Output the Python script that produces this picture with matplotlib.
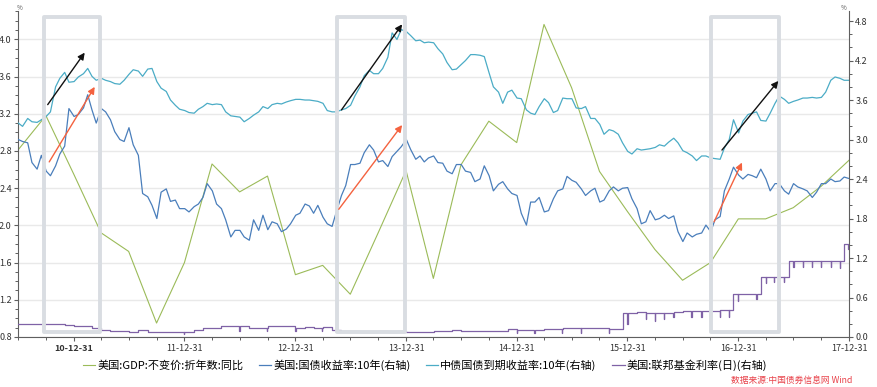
import matplotlib
matplotlib.use('Agg')
import matplotlib.pyplot as plt
import matplotlib.dates as mdates
from matplotlib.patches import Rectangle
from matplotlib.ticker import MultipleLocator, FormatStrFormatter, FixedLocator
import pandas as pd

plt.rcParams['font.family'] = ['Noto Sans CJK SC', 'DejaVu Sans']

# ---- data ----
# 美国 GDP 同比 (左轴), 季度
gdp_dates = pd.date_range('2010-06-30', '2017-12-31', freq='QE')
gdp = [2.81, 3.18, 2.55, 1.92, 1.72, 0.95, 1.60, 2.66, 2.36, 2.53, 1.47,
       1.57, 1.26, 1.92, 2.59, 1.43, 2.65, 3.12, 2.89, 4.16, 3.48, 2.58,
       2.15, 1.74, 1.41, 1.60, 2.07, 2.07, 2.19, 2.42, 2.70]

# 半月数据: 每月1日和15日
yld_dates = list(pd.date_range('2010-07-01', '2017-12-15', freq='SMS')) + [pd.Timestamp('2017-12-29')]

us10y = [
    3.00, 2.97, 2.95, 2.65, 2.55, 2.76, 2.52, 2.45, 2.60, 2.78, 2.90, 3.47,
    3.35, 3.38, 3.48, 3.68, 3.45, 3.25, 3.47, 3.42, 3.30, 3.12, 3.00, 2.97,
    3.18, 2.92, 2.76, 2.18, 2.13, 2.00, 1.80, 2.20, 2.25, 2.06, 2.08, 1.95,
    1.95, 1.90, 1.98, 2.02, 2.12, 2.33, 2.22, 2.02, 1.95, 1.78, 1.52, 1.62,
    1.62, 1.52, 1.47, 1.78, 1.62, 1.85, 1.63, 1.75, 1.72, 1.60, 1.64, 1.72,
    1.85, 1.88, 2.02, 1.99, 1.88, 2.00, 1.82, 1.72, 1.68, 1.90, 2.15, 2.30,
    2.62, 2.62, 2.64, 2.80, 2.92, 2.84, 2.66, 2.68, 2.59, 2.74, 2.82, 2.89,
    3.00, 2.85, 2.70, 2.75, 2.66, 2.72, 2.75, 2.65, 2.64, 2.52, 2.48, 2.62,
    2.62, 2.52, 2.50, 2.36, 2.40, 2.60, 2.45, 2.22, 2.32, 2.36, 2.25, 2.18,
    2.15, 1.88, 1.70, 2.05, 2.05, 2.12, 1.90, 1.92, 2.10, 2.22, 2.25, 2.44,
    2.38, 2.35, 2.25, 2.15, 2.22, 2.26, 2.05, 2.08, 2.22, 2.28, 2.22, 2.26,
    2.27, 2.10, 1.95, 1.72, 1.75, 1.92, 1.78, 1.80, 1.85, 1.80, 1.84, 1.60,
    1.45, 1.58, 1.52, 1.56, 1.58, 1.70, 1.60, 1.78, 1.83, 2.22, 2.40, 2.58,
    2.46, 2.40, 2.47, 2.45, 2.42, 2.55, 2.40, 2.22, 2.33, 2.33, 2.22, 2.17,
    2.33, 2.28, 2.25, 2.22, 2.12, 2.20, 2.33, 2.33, 2.40, 2.36, 2.37, 2.43,
    2.41]

cn10y = [
    3.25, 3.20, 3.32, 3.27, 3.26, 3.30, 3.35, 3.42, 3.80, 3.93, 4.02, 3.87,
    3.88, 3.95, 4.00, 4.08, 3.96, 3.90, 3.93, 3.90, 3.88, 3.85, 3.84, 3.90,
    3.99, 4.06, 4.04, 3.96, 4.07, 4.08, 3.88, 3.78, 3.73, 3.60, 3.52, 3.46,
    3.44, 3.41, 3.40, 3.46, 3.50, 3.55, 3.53, 3.54, 3.53, 3.42, 3.36, 3.35,
    3.34, 3.27, 3.32, 3.37, 3.42, 3.50, 3.47, 3.53, 3.55, 3.54, 3.57, 3.59,
    3.61, 3.61, 3.60, 3.60, 3.59, 3.58, 3.55, 3.44, 3.42, 3.42, 3.45, 3.47,
    3.52, 3.66, 3.80, 3.97, 4.05, 4.00, 4.00, 4.08, 4.25, 4.62, 4.52, 4.67,
    4.64, 4.58, 4.50, 4.51, 4.47, 4.48, 4.47, 4.38, 4.30, 4.17, 4.06, 4.07,
    4.14, 4.20, 4.29, 4.29, 4.28, 4.26, 4.01, 3.80, 3.72, 3.55, 3.72, 3.75,
    3.63, 3.62, 3.45, 3.40, 3.38, 3.50, 3.62, 3.56, 3.41, 3.44, 3.63, 3.62,
    3.62, 3.48, 3.47, 3.50, 3.32, 3.32, 3.23, 3.08, 3.15, 3.13, 3.08, 2.95,
    2.82, 2.78, 2.86, 2.84, 2.85, 2.86, 2.88, 2.92, 2.90, 2.96, 3.02, 2.95,
    2.83, 2.80, 2.75, 2.68, 2.75, 2.75, 2.72, 2.71, 2.70, 2.87, 3.00, 3.30,
    3.10, 3.28, 3.38, 3.40, 3.42, 3.29, 3.28, 3.40, 3.55, 3.66, 3.61, 3.55,
    3.58, 3.60, 3.63, 3.63, 3.64, 3.63, 3.64, 3.72, 3.90, 3.95, 3.93, 3.90,
    3.90]

# 联邦基金利率: 水平变化点 + 月末下探
ff_level_dates = [
    '2010-07-01', '2010-09-01', '2010-10-01', '2010-12-01',
    '2011-01-01', '2011-02-01', '2011-03-01', '2011-04-01', '2011-05-01', '2011-07-01',
    '2011-08-01', '2011-09-01', '2011-10-01', '2011-11-01', '2011-12-01',
    '2012-01-01', '2012-02-01', '2012-03-01', '2012-04-01', '2012-05-01', '2012-08-01',
    '2012-09-01', '2012-10-01', '2013-01-01', '2013-02-01', '2013-03-01', '2013-04-01',
    '2013-05-01', '2013-06-01', '2013-08-01', '2013-10-01', '2013-11-01', '2013-12-01',
    '2014-01-01', '2014-03-01', '2014-04-01', '2014-06-01', '2014-07-01', '2014-12-01',
    '2015-01-01', '2015-04-01', '2015-06-01', '2015-08-01', '2015-10-01', '2015-11-01',
    '2015-12-17', '2016-01-01', '2016-02-01', '2016-03-01', '2016-06-01', '2016-07-01',
    '2016-08-01', '2016-11-01', '2016-12-15', '2017-03-16', '2017-06-15', '2017-12-14']
ff_levels = [
    0.19, 0.20, 0.19, 0.18,
    0.17, 0.16, 0.14, 0.10, 0.09, 0.07,
    0.10, 0.08, 0.07, 0.08, 0.07,
    0.08, 0.10, 0.13, 0.14, 0.16, 0.13,
    0.14, 0.16, 0.14, 0.15, 0.14, 0.15,
    0.11, 0.09, 0.08, 0.09, 0.08, 0.09,
    0.07, 0.08, 0.09, 0.10, 0.09, 0.12,
    0.11, 0.12, 0.13, 0.14, 0.13, 0.12,
    0.37, 0.36, 0.38, 0.37, 0.38, 0.39,
    0.40, 0.41, 0.66, 0.91, 1.16, 1.42]
ff_dip_dates = [
    '2011-12-30', '2012-06-29', '2012-09-28', '2012-12-31', '2013-03-28',
    '2014-12-31', '2015-02-27', '2015-05-29', '2015-07-31', '2015-10-30', '2015-12-31',
    '2016-02-29', '2016-03-31', '2016-04-29', '2016-05-31', '2016-07-29', '2016-08-31',
    '2016-09-30', '2016-10-31', '2016-11-30', '2016-12-30', '2017-02-28', '2017-03-31',
    '2017-04-28', '2017-05-31', '2017-06-30', '2017-07-31', '2017-08-31', '2017-09-29',
    '2017-10-31', '2017-11-30', '2017-12-29']
ff_dip_values = [
    0.04, 0.09, 0.09, 0.09, 0.09,
    0.06, 0.06, 0.06, 0.06, 0.06, 0.20,
    0.28, 0.25, 0.28, 0.30, 0.30, 0.30,
    0.28, 0.30, 0.30, 0.54, 0.57, 0.82,
    0.84, 0.83, 1.06, 1.06, 1.07, 1.06,
    1.06, 1.05, 1.33]

labels = ['美国:GDP:不变价:折年数:同比', '美国:国债收益率:10年(右轴)',
          '中债国债到期收益率:10年(右轴)', '美国:联邦基金利率(日)(右轴)']
colors = ['#9bbb59', '#4a7ebb', '#4bacc6', '#7f62a6']

# 标注框 (起止日期) 和箭头 (右轴坐标)
box_spans = [('2010-09-24', '2011-03-29'), ('2013-05-16', '2013-12-29'), ('2016-10-03', '2017-05-15')]
black_arrows = [('2010-10-06', 3.53, '2011-02-05', 4.32),
                ('2013-06-01', 3.45, '2013-12-18', 4.75),
                ('2016-11-07', 2.84, '2017-05-12', 3.89)]
red_arrows = [('2010-10-11', 2.66, '2011-03-10', 3.80),
              ('2013-05-23', 1.94, '2013-12-18', 3.22),
              ('2016-10-12', 1.75, '2017-01-12', 2.65)]

# ---- fed funds series with single-day dips ----
ff = pd.Series(ff_levels, index=pd.to_datetime(ff_level_dates))
dips = pd.Series(ff_dip_values, index=pd.to_datetime(ff_dip_dates))
back = pd.Series([ff.asof(d) for d in dips.index], index=dips.index + pd.Timedelta(days=1))
ff_all = pd.concat([ff, dips, back])
ff_all = ff_all[~ff_all.index.duplicated(keep='first')].sort_index()

# ---- figure ----
fig = plt.figure(figsize=(8.78, 3.87), dpi=100)
ax = fig.add_axes([18 / 878, 1 - 337 / 387, 831 / 878, 326.5 / 387])
ax2 = ax.twinx()

l1, = ax.plot(gdp_dates, gdp, color=colors[0], lw=0.8)
l2, = ax2.plot(yld_dates, us10y, color=colors[1], lw=0.9)
l3, = ax2.plot(yld_dates, cn10y, color=colors[2], lw=0.9)
l4, = ax2.plot(ff_all.index, ff_all.values, color=colors[3], lw=0.9, drawstyle='steps-post')

ax.set_xlim(pd.Timestamp('2010-06-30'), pd.Timestamp('2017-12-31'))
ax.set_ylim(0.8, 4.31)
ax2.set_ylim(0, 4.96)

spine_c = '#5f5f5f'
for a in (ax, ax2):
    a.spines['top'].set_visible(False)
ax.spines['right'].set_visible(False)
ax2.spines['left'].set_visible(False)
ax2.spines['bottom'].set_visible(False)
ax.spines['left'].set_color(spine_c)
ax.spines['bottom'].set_color(spine_c)
ax2.spines['right'].set_color(spine_c)

ax.yaxis.set_major_locator(MultipleLocator(0.4))
ax.yaxis.set_minor_locator(MultipleLocator(0.1))
ax.yaxis.set_major_formatter(FormatStrFormatter('%.1f'))
ax2.yaxis.set_major_locator(MultipleLocator(0.6))
ax2.yaxis.set_minor_locator(MultipleLocator(0.2))
ax2.yaxis.set_major_formatter(FormatStrFormatter('%.1f'))

year_ends = pd.date_range('2010-12-31', '2017-12-31', freq='YE')
quarter_ends = pd.date_range('2010-06-30', '2017-12-31', freq='QE')
ax.xaxis.set_major_locator(FixedLocator(mdates.date2num(year_ends)))
ax.xaxis.set_minor_locator(FixedLocator(mdates.date2num(quarter_ends)))
ax.set_xticklabels([d.strftime('%y-%m-%d') for d in year_ends])
ax.get_xticklabels()[0].set_fontweight('bold')

tc = '#333333'
for a in (ax, ax2):
    a.tick_params(axis='both', which='major', length=3, width=0.8, color=spine_c,
                  labelsize=6.5, labelcolor=tc, pad=1.5)
    a.tick_params(axis='both', which='minor', length=2, width=0.7, color=spine_c)
ax.tick_params(axis='x', pad=2)

ax.yaxis.grid(True, color='#e9e9e9', lw=1.0)
ax.set_axisbelow(True)

# 标注框
xt = ax2.get_xaxis_transform()
for s, e in box_spans:
    x0 = mdates.date2num(pd.Timestamp(s))
    x1 = mdates.date2num(pd.Timestamp(e))
    ax2.add_patch(Rectangle((x0, 0.016), x1 - x0, 0.965, transform=xt, fill=False,
                            edgecolor='#d9dde2', lw=2.8, joinstyle='round', zorder=6,
                            clip_on=False))

for arrows, c in ((black_arrows, '#111111'), (red_arrows, '#f4623f')):
    for sd, sv, ed, ev in arrows:
        ax2.annotate('', xy=(pd.Timestamp(ed), ev), xytext=(pd.Timestamp(sd), sv),
                     arrowprops=dict(arrowstyle='-|>', color=c, lw=1.0,
                                     mutation_scale=10, shrinkA=0, shrinkB=0),
                     zorder=7)

fig.text(20 / 878, 1 - 8 / 387, '%', fontsize=4.5, color='#555555', ha='center', va='center')
fig.text(844 / 878, 1 - 8 / 387, '%', fontsize=4.5, color='#555555', ha='center', va='center')

fig.legend([l1, l2, l3, l4], labels, loc='center', bbox_to_anchor=(0.484, 1 - 365 / 387),
           ncol=4, frameon=False, fontsize=8, handlelength=1.1, handletextpad=0.2,
           columnspacing=1.4)

fig.text(852 / 878, 1 - 380 / 387, '数据来源:中国债券信息网 Wind', fontsize=6.3,
         style='italic', color='#e8424a', ha='right', va='center')

fig.savefig('out.png', dpi=100)
